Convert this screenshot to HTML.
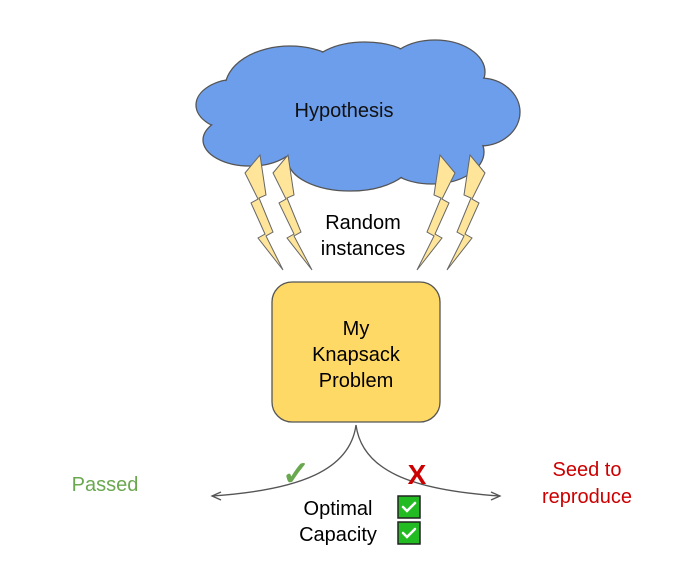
<!DOCTYPE html>
<html><head><style>body{margin:0;background:#fff}svg{display:block}text{font-family:"Liberation Sans",Arial,sans-serif}</style></head>
<body>
<svg width="695" height="585" viewBox="0 0 695 585" xmlns="http://www.w3.org/2000/svg">
<g fill="#6d9eeb" stroke="#555" stroke-width="1.3">
<ellipse cx="238" cy="105" rx="42" ry="26"/>
<ellipse cx="250" cy="140" rx="47" ry="26"/>
<ellipse cx="290" cy="88" rx="65" ry="42"/>
<ellipse cx="365" cy="70" rx="55" ry="28"/>
<ellipse cx="435" cy="72" rx="50" ry="32"/>
<ellipse cx="480" cy="112" rx="40" ry="34"/>
<ellipse cx="432" cy="152" rx="52" ry="32"/>
<ellipse cx="350" cy="160" rx="62" ry="31"/>
</g>
<g fill="#6d9eeb">
<ellipse cx="238" cy="105" rx="41" ry="25"/>
<ellipse cx="250" cy="140" rx="46" ry="25"/>
<ellipse cx="290" cy="88" rx="64" ry="41"/>
<ellipse cx="365" cy="70" rx="54" ry="27"/>
<ellipse cx="435" cy="72" rx="49" ry="31"/>
<ellipse cx="480" cy="112" rx="39" ry="33"/>
<ellipse cx="432" cy="152" rx="51" ry="31"/>
<ellipse cx="350" cy="160" rx="61" ry="30"/>
<ellipse cx="355" cy="115" rx="120" ry="50"/>
</g>
<text x="344" y="117" font-size="20" text-anchor="middle" fill="#111">Hypothesis</text>
<g fill="#ffe599" stroke="#666" stroke-width="1">
<polygon points="245,173 260,155 266,195 259,198 273,232 266,236 283,270 258,238 265,234 251,203 258,199"/>
<polygon points="273,173 288,155 294,195 287,198 301,232 294,236 312,270 287,238 294,234 279,203 286,199"/>
<polygon points="455,173 440,155 434,195 441,198 427,232 434,236 417,270 442,238 435,234 449,203 442,199"/>
<polygon points="485,173 470,155 464,195 471,198 457,232 464,236 447,270 472,238 465,234 479,203 472,199"/>
</g>
<text x="363" y="229" font-size="20" text-anchor="middle">Random</text>
<text x="363" y="255" font-size="20" text-anchor="middle">instances</text>
<rect x="272" y="282" width="168" height="140" rx="20" fill="#ffd966" stroke="#555" stroke-width="1.3"/>
<text x="356" y="335" font-size="20" text-anchor="middle">My</text>
<text x="356" y="361" font-size="20" text-anchor="middle">Knapsack</text>
<text x="356" y="387" font-size="20" text-anchor="middle">Problem</text>
<g fill="none" stroke="#555" stroke-width="1.3">
<path d="M356,425 C350,470 300,490 212,496"/>
<path d="M356,425 C362,470 410,490 500,496"/>
<path d="M221,492 L212,496 L221,500"/>
<path d="M491,492 L500,496 L491,500"/>
</g>
<text x="296" y="485" font-size="34" text-anchor="middle" fill="#6aa84f" font-weight="bold">✓</text>
<text x="417" y="484" font-size="28" text-anchor="middle" fill="#cc0000" font-weight="bold">X</text>
<text x="105" y="491" font-size="20" text-anchor="middle" fill="#6aa84f">Passed</text>
<text x="587" y="476" font-size="20" text-anchor="middle" fill="#cc0000">Seed to</text>
<text x="587" y="503" font-size="20" text-anchor="middle" fill="#cc0000">reproduce</text>
<text x="338" y="515" font-size="20" text-anchor="middle">Optimal</text>
<text x="338" y="541" font-size="20" text-anchor="middle">Capacity</text>
<g stroke="#222" stroke-width="1.5" fill="#22bb22">
<rect x="398" y="496" width="22" height="22"/>
<rect x="398" y="522" width="22" height="22"/>
</g>
<g stroke="#fff" stroke-width="2.5" fill="none" stroke-linecap="round">
<path d="M403,507 l4,4 l8,-8"/>
<path d="M403,533 l4,4 l8,-8"/>
</g>
</svg>
</body></html>
